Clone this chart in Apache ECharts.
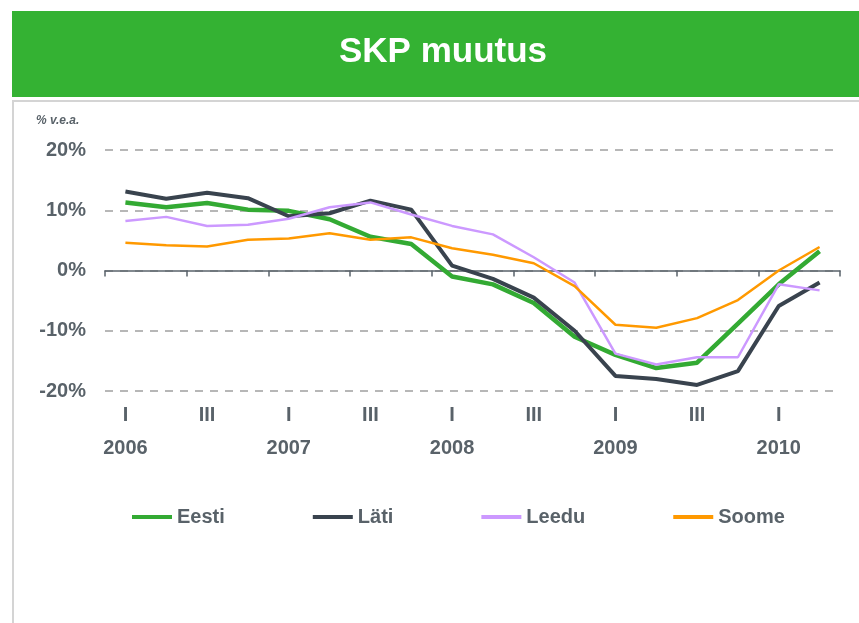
<!DOCTYPE html>
<html>
<head>
<meta charset="utf-8">
<script src="https://cdn.jsdelivr.net/npm/echarts@6/dist/echarts.min.js"></script>
<style>html,body{margin:0;padding:0;background:#fff}#c{width:859px;height:623px}</style>
</head>
<body>
<div id="c"></div>
<script>
var quarters = ['I','II','III','IV','I','II','III','IV','I','II','III','IV','I','II','III','IV','I','II'];
var years = ['2006','','','','2007','','','','2008','','','','2009','','','','2010',''];
var yTicks = [-20, -10, 0, 10, 20];
var eesti = [11.3, 10.5, 11.2, 10.1, 9.9, 8.5, 5.6, 4.4, -1.0, -2.3, -5.4, -11.0, -14.0, -16.2, -15.3, -8.8, -2.3, 3.2];
var lati  = [13.1, 11.9, 12.9, 12.0, 9.0, 9.5, 11.6, 10.1, 0.8, -1.4, -4.5, -10.0, -17.5, -18.0, -19.0, -16.7, -5.9, -2.0];
var leedu = [8.2, 8.9, 7.4, 7.6, 8.6, 10.5, 11.3, 9.3, 7.4, 6.0, 2.2, -2.0, -13.8, -15.6, -14.4, -14.4, -2.3, -3.3];
var soome = [4.6, 4.2, 4.0, 5.1, 5.3, 6.2, 5.1, 5.5, 3.7, 2.6, 1.2, -2.6, -9.0, -9.5, -7.9, -4.9, 0.0, 3.9];

var cats = quarters.map(function(q, i){ return years[i] ? q + '\n' + years[i] : q; });
var FONT = '"Liberation Sans", Arial, sans-serif';
var TXT = '#596269';

var chart = echarts.init(document.getElementById('c'), null, {renderer: 'canvas'});
chart.setOption({
  animation: false,
  backgroundColor: '#ffffff',
  textStyle: {fontFamily: FONT},
  graphic: [
    {type: 'rect', shape: {x: 12, y: 11, width: 847, height: 86}, style: {fill: '#34b233'}, silent: true},
    {type: 'rect', shape: {x: 13, y: 101, width: 860, height: 540}, style: {fill: 'none', stroke: '#d4d4d4', lineWidth: 2}, silent: true},
    {type: 'text', x: 443, y: 52, style: {text: 'SKP muutus', fill: '#ffffff', font: 'bold 35px ' + FONT, textAlign: 'center', textVerticalAlign: 'middle'}, silent: true},
    {type: 'text', x: 36, y: 121, style: {text: '% v.e.a.', fill: TXT, font: 'italic bold 12px ' + FONT, textAlign: 'left', textVerticalAlign: 'middle'}, silent: true}
  ],
  grid: {left: 105, right: 19, top: 150, bottom: 232, containLabel: false},
  legend: {
    left: 132, top: 507, padding: 0, itemWidth: 40, itemHeight: 4, itemGap: 88, icon: 'rect',
    textStyle: {color: TXT, fontSize: 20, fontWeight: 'bold', fontFamily: FONT, lineHeight: 20},
    data: ['Eesti', 'Läti', 'Leedu', 'Soome']
  },
  xAxis: [
    {
      type: 'category', data: cats, position: 'bottom', boundaryGap: true,
      axisLine: {show: false, onZero: false}, axisTick: {show: false}, splitLine: {show: false},
      axisLabel: {interval: 1, color: TXT, fontSize: 20, fontWeight: 'bold', fontFamily: FONT, lineHeight: 33, margin: 8}
    },
    {
      type: 'category', data: cats, position: 'top', boundaryGap: true,
      axisLine: {show: true, onZero: true, onZeroAxisIndex: 0, lineStyle: {color: '#5a636b', width: 1.5}},
      axisTick: {show: true, interval: 1, inside: true, length: 6, lineStyle: {color: '#5a636b', width: 1.5}},
      axisLabel: {show: false}, splitLine: {show: false}
    }
  ],
  yAxis: {
    type: 'value', min: yTicks[0], max: yTicks[yTicks.length - 1], interval: 10,
    axisLine: {show: false}, axisTick: {show: false},
    axisLabel: {formatter: '{value}%', color: TXT, fontSize: 20, fontWeight: 'bold', fontFamily: FONT, margin: 19},
    splitLine: {show: true, lineStyle: {color: '#a0a0a0', width: 1.5, type: [8, 7]}}
  },
  series: [
    {name: 'Eesti', type: 'line', data: eesti, showSymbol: false, symbol: 'none', color: '#33aa33', lineStyle: {width: 4.5, color: '#33aa33'}},
    {name: 'Läti', type: 'line', data: lati, showSymbol: false, symbol: 'none', color: '#39434e', lineStyle: {width: 4, color: '#39434e'}},
    {name: 'Leedu', type: 'line', data: leedu, showSymbol: false, symbol: 'none', color: '#cc99ff', lineStyle: {width: 2.5, color: '#cc99ff'}},
    {name: 'Soome', type: 'line', data: soome, showSymbol: false, symbol: 'none', color: '#ff9900', lineStyle: {width: 2.5, color: '#ff9900'}}
  ]
});
</script>
</body>
</html>
